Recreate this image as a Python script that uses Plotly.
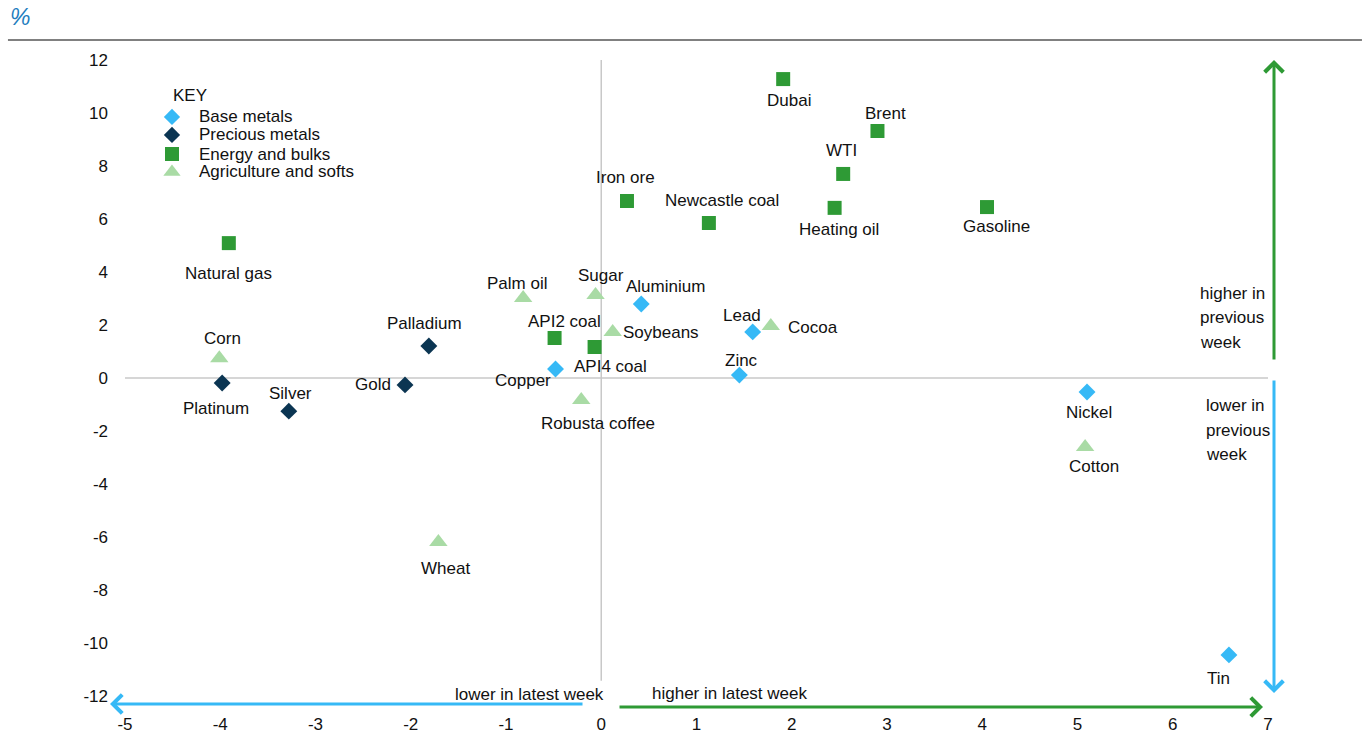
import plotly.graph_objects as go

# ---------------- data ----------------
base_names = ["Aluminium", "Copper", "Lead", "Zinc", "Nickel", "Tin"]
base_x = [0.42, -0.48, 1.59, 1.45, 5.10, 6.59]
base_y = [2.79, 0.34, 1.74, 0.11, -0.53, -10.45]

precious_names = ["Platinum", "Silver", "Gold", "Palladium"]
precious_x = [-3.98, -3.28, -2.06, -1.81]
precious_y = [-0.19, -1.25, -0.26, 1.21]

energy_names = ["Natural gas", "Iron ore", "Newcastle coal", "Dubai", "Brent", "WTI",
                "Heating oil", "Gasoline", "API2 coal", "API4 coal"]
energy_x = [-3.91, 0.27, 1.13, 1.91, 2.90, 2.54, 2.45, 4.05, -0.49, -0.07]
energy_y = [5.09, 6.68, 5.85, 11.28, 9.32, 7.70, 6.42, 6.45, 1.51, 1.17]

agri_names = ["Corn", "Wheat", "Palm oil", "Sugar", "Soybeans", "Robusta coffee", "Cocoa", "Cotton"]
agri_x = [-4.01, -1.71, -0.82, -0.06, 0.12, -0.21, 1.78, 5.08]
agri_y = [0.75, -6.19, 3.02, 3.13, 1.74, -0.83, 1.96, -2.60]

group_names = ["Base metals", "Precious metals", "Energy and bulks", "Agriculture and softs"]
x_ticks = [-5, -4, -3, -2, -1, 0, 1, 2, 3, 4, 5, 6, 7]
y_ticks = [-12, -10, -8, -6, -4, -2, 0, 2, 4, 6, 8, 10, 12]

# ---------------- styles ----------------
FONT = "Liberation Sans, Arial, sans-serif"
FS = 17
C_BASE = "#36B9F6"
C_PREC = "#0B3552"
C_ENER = "#2E9A35"
C_AGRI = "#A9DBA5"

# label offsets in pixels (dx, dy; dy positive = downwards)
label_off = {
    "Aluminium": (24, -18), "Copper": (-33, 12), "Lead": (-11, -16), "Zinc": (2, -15),
    "Nickel": (2, 20), "Tin": (-10, 24),
    "Platinum": (-6, 25), "Silver": (2, -18), "Gold": (-32, 0), "Palladium": (-4, -22),
    "Natural gas": (0, 30), "Iron ore": (-1, -23), "Newcastle coal": (13, -22),
    "Dubai": (6, 21), "Brent": (8, -18), "WTI": (-2, -23), "Heating oil": (4, 22),
    "Gasoline": (9, 19), "API2 coal": (10, -16), "API4 coal": (16, 19),
    "Corn": (3, -20), "Wheat": (7, 26), "Palm oil": (-6, -14), "Sugar": (5, -20),
    "Soybeans": (48, 1), "Robusta coffee": (17, 23), "Cocoa": (42, 1), "Cotton": (9, 20),
}

fig = go.Figure()

groups = [
    (base_names, base_x, base_y, "diamond", 13, C_BASE, group_names[0]),
    (precious_names, precious_x, precious_y, "diamond", 13, C_PREC, group_names[1]),
    (energy_names, energy_x, energy_y, "square", 14, C_ENER, group_names[2]),
    (agri_names, agri_x, agri_y, "triangle-up", 16, C_AGRI, group_names[3]),
]

annotations = []
for names, xs, ys, sym, size, col, gname in groups:
    fig.add_trace(go.Scatter(
        x=xs, y=ys, mode="markers", name=gname, text=names, showlegend=False,
        marker=dict(symbol=sym, size=size, color=col, line=dict(width=0)),
        hovertemplate="%{text}: %{x}, %{y}<extra></extra>",
    ))
    for n, xv, yv in zip(names, xs, ys):
        dx, dy = label_off[n]
        annotations.append(dict(
            x=xv, y=yv, xref="x", yref="y", text=n, showarrow=False,
            xshift=dx, yshift=-dy, font=dict(family=FONT, size=FS, color="#111111"),
        ))

# ---- manual key (overlay axis in fractional coordinates) ----
key_rows_y = [0.9104, 0.8821, 0.8522, 0.8239]
key_marker_x = 0.0411
for (names, xs, ys, sym, size, col, gname), ry in zip(groups, key_rows_y):
    ksize = {"diamond": 12.5, "square": 14, "triangle-up": 15}[sym]
    fig.add_trace(go.Scatter(
        x=[key_marker_x], y=[ry], xaxis="x2", yaxis="y2", mode="markers",
        showlegend=False, hoverinfo="skip",
        marker=dict(symbol=sym, size=ksize, color=col, line=dict(width=0)),
    ))
    annotations.append(dict(
        x=0.0630, y=ry, xref="paper", yref="paper", text=gname, showarrow=False,
        xanchor="left", yanchor="middle", font=dict(family=FONT, size=FS, color="#111111"),
    ))
annotations.append(dict(
    x=0.0402, y=0.9434, xref="paper", yref="paper", text="KEY", showarrow=False,
    xanchor="left", yanchor="middle", font=dict(family=FONT, size=FS, color="#111111"),
))

# ---- direction arrows ----
def arrow(x, y, ax, ay, col):
    return dict(x=x, y=y, xref="paper", yref="paper", ax=ax, ay=ay, axref="pixel", ayref="pixel",
                showarrow=True, arrowhead=4, arrowsize=1.2, arrowwidth=3, arrowcolor=col, text="")

annotations += [
    arrow(-0.01312, -0.01258, 474, 0, C_BASE),
    arrow(0.99563, -0.0173, -645, 0, C_ENER),
    arrow(1.00525, 1.0, 0, 301, C_ENER),
    arrow(1.00525, 0.00472, 0, -314, C_BASE),
]

txt = dict(showarrow=False, xref="paper", yref="paper", yanchor="middle",
           font=dict(family=FONT, size=FS, color="#111111"))
annotations.append(dict(x=0.4208, y=0.0016, text="lower in latest week", xanchor="right", **txt))
annotations.append(dict(x=0.4593, y=0.0047, text="higher in latest week", xanchor="left", **txt))
for t, yy in zip(["higher in", "previous", "week"], [0.6336, 0.5959, 0.5566]):
    annotations.append(dict(x=0.9388, y=yy, text=t, xanchor="left", **txt))
for t, yy in zip(["lower in", "previous", "week"], [0.4560, 0.4167, 0.3805]):
    annotations.append(dict(x=0.9440, y=yy, text=t, xanchor="left", **txt))

# "%" unit label
annotations.append(dict(
    x=-0.1024, y=1.0676, xref="paper", yref="paper", text="%", showarrow=False,
    xanchor="left", yanchor="middle",
    font=dict(family=FONT, size=23, color="#1E7DBE", style="italic"),
))

shapes = [
    dict(type="line", xref="paper", yref="paper", x0=-0.1024, x1=1.0822, y0=1.0314, y1=1.0314,
         line=dict(color="#808080", width=2)),
    dict(type="line", xref="x", yref="paper", x0=0, x1=0, y0=0.024, y1=1.0,
         line=dict(color="#C8C8C8", width=1.5), layer="below"),
    dict(type="line", xref="paper", yref="y", x0=0, x1=1, y0=0, y1=0,
         line=dict(color="#C8C8C8", width=1.5), layer="below"),
]

fig.update_layout(
    width=1370, height=745,
    margin=dict(l=125, r=102, t=60, b=49),
    paper_bgcolor="white", plot_bgcolor="white",
    font=dict(family=FONT, size=FS, color="#111111"),
    showlegend=False,
    annotations=annotations,
    shapes=shapes,
    xaxis=dict(range=[-5, 7], tickvals=x_ticks, ticktext=[str(v) for v in x_ticks],
               showgrid=False, zeroline=False, showline=False, ticks="",
               ticklabelstandoff=16, tickfont=dict(family=FONT, size=FS, color="#111111")),
    yaxis=dict(range=[-12, 12], tickvals=y_ticks, ticktext=[str(v) for v in y_ticks],
               showgrid=False, zeroline=False, showline=False, ticks="",
               ticklabelstandoff=16, tickfont=dict(family=FONT, size=FS, color="#111111")),
    xaxis2=dict(range=[0, 1], overlaying="x", visible=False, fixedrange=True),
    yaxis2=dict(range=[0, 1], overlaying="y", visible=False, fixedrange=True),
)

fig.write_html("out.html")
